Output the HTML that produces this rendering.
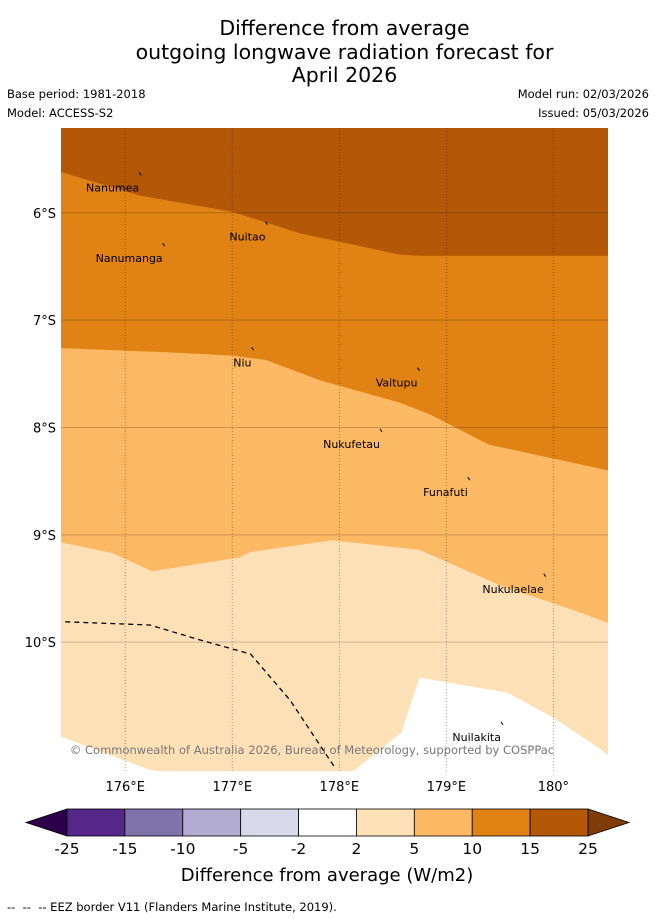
<!DOCTYPE html>
<html><head><meta charset="utf-8"><style>
body{margin:0;width:655px;height:919px;background:#fff;font-family:"DejaVu Sans","Liberation Sans",sans-serif;overflow:hidden;position:relative}
.t{position:absolute;white-space:nowrap;color:#000}
</style></head><body>
<div class="t" style="left:0;width:689px;top:17px;text-align:center;font-size:20.5px;line-height:23.5px">Difference from average<br>outgoing longwave radiation forecast for<br>April 2026</div>
<div class="t" style="left:7px;top:87px;font-size:11.5px">Base period: 1981-2018</div>
<div class="t" style="left:7px;top:106px;font-size:11.5px">Model: ACCESS-S2</div>
<div class="t" style="right:6px;top:87px;font-size:11.5px">Model run: 02/03/2026</div>
<div class="t" style="right:6px;top:106px;font-size:11.5px">Issued: 05/03/2026</div>
<svg id="map" width="655" height="919" style="position:absolute;left:0;top:0" font-family="DejaVu Sans, Liberation Sans, sans-serif"></svg>
<div class="t" style="left:7px;top:900px;font-size:11.5px">-- &nbsp;-- &nbsp;-- EEZ border V11 (Flanders Marine Institute, 2019).</div>
<script>
const lonTicks=[176,177,178,179,180];
const lonLabels=["176°E","177°E","178°E","179°E","180°"];
const latTicks=[6,7,8,9,10];
const latLabels=["6°S","7°S","8°S","9°S","10°S"];
const darkLon=[175.40,176.14,177.00,177.63,178.57,178.75,180.51];
const darkLat=[5.62,5.84,5.99,6.19,6.39,6.40,6.40];
const orangeLon=[175.40,176.42,177.00,177.31,177.82,178.57,178.85,179.40,180.51];
const orangeLat=[7.26,7.30,7.33,7.37,7.56,7.77,7.88,8.16,8.40];
const lightLon=[175.40,175.88,176.25,177.07,177.17,177.93,178.75,179.50,180.24,180.51];
const lightLat=[9.07,9.17,9.34,9.21,9.16,9.05,9.14,9.47,9.72,9.82];
const whiteLLon=[175.40,176.23,176.37];
const whiteLLat=[10.88,11.19,11.21];
const whiteRLon=[178.12,178.58,178.75,179.57,180.01,180.43,180.51];
const whiteRLat=[11.21,10.84,10.33,10.47,10.71,10.99,11.05];
const eezLon=[175.44,176.23,176.70,177.17,177.54,177.96];
const eezLat=[9.81,9.84,9.98,10.11,10.54,11.17];
const islandNames=["Nanumea","Nuitao","Nanumanga","Niu","Vaitupu","Nukufetau","Funafuti","Nukulaelae","Nuilakita"];
const islandLon=[176.13,177.31,176.35,177.18,178.73,178.38,179.20,179.91,179.51];
const islandLat=[5.66,6.12,6.32,7.29,7.48,8.05,8.50,9.40,10.78];
const cbBounds=["-25","-15","-10","-5","-2","2","5","10","15","25"];
const cbColors=["#542788","#8073ac","#b2abd2","#d8daeb","#ffffff","#fee0b6","#fdb863","#e08214","#b35806"];
const X0=61,X1=608,Y0=128,Y1=771,LON0=175.40,LON1=180.51,LAT0=5.21,LAT1=11.20;
const xs=l=>X0+(l-LON0)/(LON1-LON0)*(X1-X0);
const ys=l=>Y0+(l-LAT0)/(LAT1-LAT0)*(Y1-Y0);
const svg=document.getElementById('map');const NS='http://www.w3.org/2000/svg';
function mk(t,a){const e=document.createElementNS(NS,t);for(const k in a)e.setAttribute(k,a[k]);svg.appendChild(e);return e;}
function pts(lo,la){return lo.map((v,i)=>xs(v).toFixed(1)+','+ys(la[i]).toFixed(1));}
let e;
e=mk('rect',{x:X0,y:Y0,width:X1-X0,height:Y1-Y0,fill:'#fee0b6'});

e=mk('polygon',{fill:'#fff',points:[X0+','+Y1,...pts(whiteLLon,whiteLLat)].join(' ')});

e=mk('polygon',{fill:'#fff',points:[...pts(whiteRLon,whiteRLat),X1+','+Y1].join(' ')});

e=mk('polygon',{fill:'#fdb863',points:[X0+','+Y0,X1+','+Y0,...pts(lightLon,lightLat).reverse()].join(' ')});

e=mk('polygon',{fill:'#e08214',points:[X0+','+Y0,X1+','+Y0,...pts(orangeLon,orangeLat).reverse()].join(' ')});

e=mk('polygon',{fill:'#b35806',points:[X0+','+Y0,X1+','+Y0,...pts(darkLon,darkLat).reverse()].join(' ')});

lonTicks.forEach((v,i)=>{const x=xs(v);
 e=mk('line',{x1:x,x2:x,y1:Y0,y2:Y1,stroke:'#000','stroke-opacity':0.35,'stroke-width':1,'stroke-dasharray':'1,2'});
 
 e=mk('text',{x:x,y:791,'text-anchor':'middle','font-size':13});e.textContent=lonLabels[i];
 });
latTicks.forEach((v,i)=>{const y=ys(v);
 e=mk('line',{x1:X0,x2:X1,y1:y,y2:y,stroke:'#000','stroke-opacity':0.2,'stroke-width':1});
 
 e=mk('text',{x:56,y:y+5,'text-anchor':'end','font-size':13});e.textContent=latLabels[i];
 });
e=mk('polyline',{fill:'none',stroke:'#000','stroke-width':1.3,'stroke-dasharray':'5,4',points:pts(eezLon,eezLat).join(' ')});

islandNames.forEach((n,i)=>{const x=xs(islandLon[i]),y=ys(islandLat[i]);
 e=mk('line',{x1:x,y1:y-4,x2:x+2,y2:y-1,stroke:'#000','stroke-width':1});
 
 e=mk('text',{x:x,y:y+15,'text-anchor':'end','font-size':11});e.textContent=n;
 });
e=mk('text',{x:312,y:754,'text-anchor':'middle','font-size':11.5,fill:'#777'});
e.textContent='© Commonwealth of Australia 2026, Bureau of Meteorology, supported by COSPPac';

const CB0=67,CB1=588,CBY=809,CBH=27,n=cbColors.length,w=(CB1-CB0)/n;
e=mk('polygon',{fill:'#2d004b',stroke:'#000','stroke-width':0.8,points:`${CB0},${CBY} 26,${CBY+CBH/2} ${CB0},${CBY+CBH}`});

e=mk('polygon',{fill:'#7f3b08',stroke:'#000','stroke-width':0.8,points:`${CB1},${CBY} 629,${CBY+CBH/2} ${CB1},${CBY+CBH}`});

cbColors.forEach((c,i)=>{e=mk('rect',{x:CB0+i*w,y:CBY,width:w,height:CBH,fill:c,stroke:'#000','stroke-width':0.8});
 });
cbBounds.forEach((b,i)=>{e=mk('text',{x:CB0+i*w,y:854,'text-anchor':'middle','font-size':15.5});e.textContent=b;
 });
e=mk('text',{x:327,y:881,'text-anchor':'middle','font-size':18});e.textContent='Difference from average (W/m2)';

</script>
</body></html>
